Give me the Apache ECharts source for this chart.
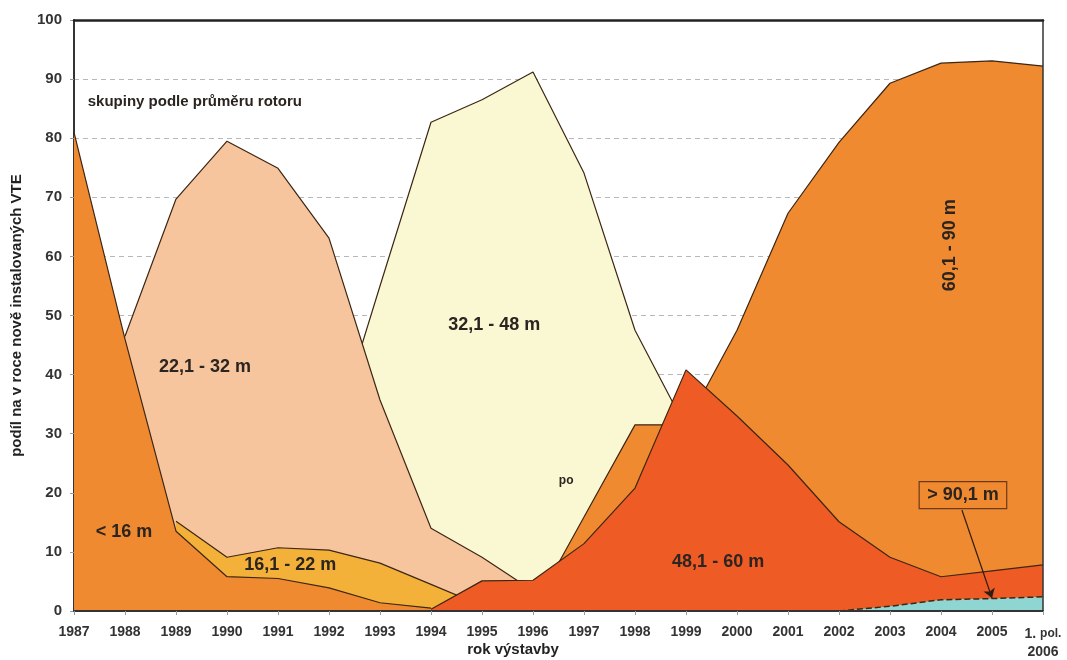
<!DOCTYPE html>
<html>
<head>
<meta charset="utf-8">
<script src="https://cdn.jsdelivr.net/npm/echarts@6/dist/echarts.min.js"></script>
<style>
  html, body { margin: 0; padding: 0; background: #fff; }
  #main { width: 1067px; height: 660px; }
</style>
</head>
<body>
<div id="main"></div>
<script>
// hodnoty (rok, podíl v %)
const lt16X = [1987, 1988, 1989, 1990, 1991, 1992, 1993, 1994];
const lt16Y = [81, 46, 13.5, 5.8, 5.5, 3.9, 1.4, 0.5];

const g16X = [1989, 1990, 1991, 1992, 1993, 1994, 1995];
const g16Y = [15.2, 9.1, 10.7, 10.3, 8.1, 4.5, 0.9];

const g22X = [1988, 1989, 1990, 1991, 1992, 1993, 1994, 1995, 1995.7];
const g22Y = [46.5, 69.7, 79.5, 74.9, 63.1, 35.7, 14, 9.1, 5.1];

const g32X = [1992, 1993, 1994, 1995, 1996, 1997, 1998, 1999];
const g32Y = [27, 55, 82.7, 86.5, 91.2, 74.1, 47.5, 31];

const g48X = [1994, 1995, 1996, 1997, 1998, 1999, 2000, 2001, 2002, 2003, 2004, 2005, 2006];
const g48Y = [0.3, 5.1, 5.2, 11.4, 20.8, 40.8, 33, 24.7, 15.1, 9.1, 5.8, 6.8, 7.8];

const g60X = [1996, 1997, 1998, 1999, 2000, 2001, 2002, 2003, 2004, 2005, 2006];
const g60Y = [0.3, 15.9, 31.5, 31.5, 47.5, 67.3, 79.3, 89.3, 92.7, 93.1, 92.2];

const g90X = [1999, 2000, 2001, 2002, 2003, 2004, 2005, 2006];
const g90Y = [0, 0, 0, 0, 0.8, 1.9, 2.1, 2.4];

const lastYearLabel = '{a|1.} {b|pol.}\n{a|2006}';

// popisky skupin v souřadnicích grafu
const notes = [
  { text: 'skupiny podle průměru rotoru', at: [1987.27, 86.1], size: 15, align: 'left' },
  { text: '22,1 - 32 m', at: [1989.57, 41.3], size: 18 },
  { text: '< 16 m', at: [1987.98, 13.4], size: 18 },
  { text: '16,1 - 22 m', at: [1991.24, 7.8], size: 18 },
  { text: '32,1 - 48 m', at: [1995.24, 48.4], size: 18 },
  { text: 'po', at: [1996.65, 22.0], size: 12 },
  { text: '48,1 - 60 m', at: [1999.63, 8.3], size: 18 },
  { text: '60,1 - 90 m', at: [2004.18, 61.9], size: 18, rotate: true },
  { text: '> 90,1 m', at: [2004.43, 19.6], size: 18, box: true }
];

const font = '"Liberation Sans", Arial, sans-serif';
const edge = '#3d2614';
let layer = 2;

function pairs(xs, ys) {
  return xs.map((x, i) => [x, ys[i]]);
}

// každá plocha ve vlastní vrstvě, aby obrys zadní plochy nepřekreslil přední
function area(name, xs, ys, color) {
  return {
    name: name,
    type: 'line',
    z: layer++,
    data: pairs(xs, ys),
    symbol: 'none',
    lineStyle: { color: edge, width: 1.2 },
    areaStyle: { color: color, opacity: 1 },
    silent: true
  };
}

const chart = echarts.init(document.getElementById('main'));

const series = [
  area('32,1 - 48 m', g32X, g32Y, '#faf8d2'),
  area('22,1 - 32 m', g22X, g22Y, '#f6c59e'),
  area('16,1 - 22 m', g16X, g16Y, '#f3b13a'),
  area('< 16 m', lt16X, lt16Y, '#f08a30'),
  area('60,1 - 90 m', g60X, g60Y, '#f08a30'),
  area('48,1 - 60 m', g48X, g48Y, '#ee5b24'),
  area('> 90,1 m', g90X, g90Y, '#8fd6d2')
];
const blue = series[6];
blue.lineStyle = { color: edge, width: 1.5, type: 'dashed' };
blue.markLine = {
  silent: true,
  z: 50,
  symbol: ['none', 'arrow'],
  symbolSize: 9,
  label: { show: false },
  lineStyle: { color: '#2e1e12', width: 1.2, type: 'solid' },
  data: [[{ coord: [2004.41, 17.1] }, { coord: [2005, 2.2] }]]
};

chart.setOption({
  animation: false,
  grid: { left: 74, right: 24, top: 20, bottom: 49 },
  xAxis: [
    {
      type: 'value',
      min: 1987,
      max: 2006,
      interval: 1,
      z: 20,
      axisLine: { lineStyle: { color: '#333', width: 2 } },
      axisTick: { show: true, length: 4, lineStyle: { color: '#999' } },
      splitLine: { show: false },
      axisLabel: {
        margin: 14,
        color: '#333',
        fontFamily: font,
        fontWeight: 'bold',
        fontSize: 14,
        formatter: function (v) { return v === 2006 ? lastYearLabel : String(v); },
        rich: {
          a: { fontFamily: font, fontWeight: 'bold', fontSize: 14, color: '#333', lineHeight: 18 },
          b: { fontFamily: font, fontSize: 12, color: '#333', lineHeight: 18 }
        }
      }
    },
    {
      type: 'value',
      position: 'top',
      min: 1987,
      max: 2006,
      z: 20,
      axisLine: { show: true, onZero: false, lineStyle: { color: '#222', width: 2.5 } },
      axisTick: { show: false },
      axisLabel: { show: false },
      splitLine: { show: false }
    }
  ],
  yAxis: [
    {
      type: 'value',
      min: 0,
      max: 100,
      interval: 10,
      z: 0,
      name: 'podíl na v roce nově instalovaných VTE',
      nameLocation: 'middle',
      nameGap: 50,
      nameTextStyle: { fontFamily: font, fontWeight: 'bold', fontSize: 15, color: '#222' },
      axisLine: { show: true, lineStyle: { color: '#333', width: 2 } },
      axisTick: { show: true, length: 4, lineStyle: { color: '#999' } },
      axisLabel: { margin: 12, color: '#333', fontFamily: font, fontWeight: 'bold', fontSize: 15 },
      splitLine: { show: true, lineStyle: { color: '#b8b8b8', type: [5, 4], width: 1 } }
    },
    {
      type: 'value',
      position: 'right',
      min: 0,
      max: 100,
      z: 20,
      axisLine: { show: true, onZero: false, lineStyle: { color: '#333', width: 1.5 } },
      axisTick: { show: false },
      axisLabel: { show: false },
      splitLine: { show: false }
    }
  ],
  series: series
});

// popisky + název osy x
const graphics = notes.map(function (n) {
  const p = chart.convertToPixel({ xAxisIndex: 0, yAxisIndex: 0 }, n.at);
  const g = {
    type: 'text',
    x: p[0],
    y: p[1],
    rotation: n.rotate ? Math.PI / 2 : 0,
    silent: true,
    z: 100,
    style: {
      text: n.text,
      fill: '#2b2420',
      font: 'bold ' + n.size + 'px ' + font,
      align: n.align || 'center',
      verticalAlign: 'middle'
    }
  };
  if (n.box) {
    g.style.borderColor = '#6b3a1a';
    g.style.borderWidth = 1.2;
    g.style.padding = [5, 8, 4, 8];
  }
  return g;
});
graphics.push({
  type: 'text',
  x: 513,
  y: 650,
  silent: true,
  style: {
    text: 'rok výstavby',
    fill: '#222',
    font: 'bold 15px ' + font,
    align: 'center',
    verticalAlign: 'middle'
  }
});
chart.setOption({ graphic: graphics });
</script>
</body>
</html>
